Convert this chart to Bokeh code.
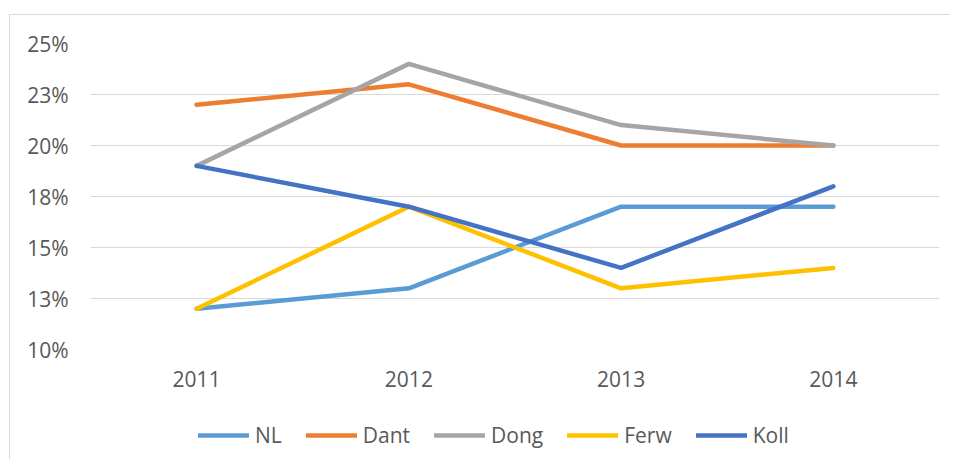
from bokeh.plotting import figure
from bokeh.layouts import column
from bokeh.models import Range1d, FactorRange, FixedTicker, Legend, LegendItem
from bokeh.embed import file_html
from bokeh.resources import INLINE

years = ["2011", "2012", "2013", "2014"]
nl = [12, 13, 17, 17]
dant = [22, 23, 20, 20]
dong = [19, 24, 21, 20]
ferw = [12, 17, 13, 14]
koll = [19, 17, 14, 18]
series_names = ["NL", "Dant", "Dong", "Ferw", "Koll"]
series_colors = ["#5B9BD5", "#ED7D31", "#A5A5A5", "#FFC000", "#4472C4"]
y_ticks = [10, 12.5, 15, 17.5, 20, 22.5, 25]
y_tick_labels = ["10%", "13%", "15%", "18%", "20%", "23%", "25%"]

FONT = "Open Sans"
FS = "21px"
TXT = "#595959"
LW = 4.5

p = figure(width=940, height=384, x_range=FactorRange(*years), y_range=Range1d(10, 25),
           output_backend="svg", toolbar_location=None,
           min_border_left=80, min_border_right=11, min_border_top=28, min_border_bottom=50)
p.outline_line_color = None
p.border_fill_color = None
p.background_fill_color = None
p.xgrid.grid_line_color = None
p.ygrid.grid_line_color = "#D9D9D9"
p.ygrid.grid_line_width = 1

p.yaxis.ticker = FixedTicker(ticks=y_ticks)
p.yaxis.major_label_overrides = {t: l for t, l in zip(y_ticks, y_tick_labels)}
for ax in (p.xaxis, p.yaxis):
    ax.axis_line_color = None
    ax.major_tick_line_color = None
    ax.minor_tick_line_color = None
    ax.major_label_text_font = FONT
    ax.major_label_text_font_size = FS
    ax.major_label_text_color = TXT
p.yaxis.major_label_standoff = 16
p.xaxis.major_label_standoff = 15

for name, vals, col in zip(series_names, [nl, dant, dong, ferw, koll], series_colors):
    p.line(years, vals, line_color=col, line_width=LW, line_cap="round", line_join="round")

# legend strip below the chart
lg = figure(width=940, height=60, x_range=Range1d(0, 1), y_range=Range1d(0, 1),
            output_backend="svg", toolbar_location=None,
            x_axis_location=None, y_axis_location=None,
            min_border_left=80, min_border_right=11, min_border_top=0, min_border_bottom=0)
lg.outline_line_color = None
lg.border_fill_color = None
lg.background_fill_color = None
lg.xgrid.grid_line_color = None
lg.ygrid.grid_line_color = None
items = []
for name, col in zip(series_names, series_colors):
    # renderer data lies outside the strip's ranges: only its legend glyph shows
    r = lg.line([5, 6], [5, 6], line_color=col, line_width=LW, line_cap="round")
    items.append(LegendItem(label=name, renderers=[r]))
legend = Legend(items=items, orientation="horizontal", location=(108, 10),
                glyph_width=51, glyph_height=20, label_standoff=6, spacing=24,
                padding=0, margin=0, border_line_color=None, background_fill_alpha=0,
                label_text_font=FONT, label_text_font_size=FS, label_text_color=TXT,
                label_height=20)
lg.add_layout(legend)

layout = column(p, lg, spacing=0,
                styles={"margin-left": "9px", "margin-top": "14px",
                        "border-top": "1px solid #D9D9D9", "border-left": "1px solid #D9D9D9"})

open("out.html", "w").write(file_html(layout, INLINE))
